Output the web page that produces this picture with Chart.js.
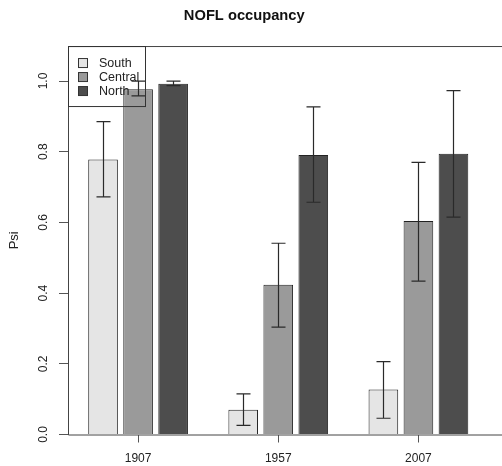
<!DOCTYPE html>
<html>
<head>
<meta charset="utf-8">
<script src="https://cdn.jsdelivr.net/npm/chart.js@4.4.1/dist/chart.umd.min.js"></script>
<style>
  html, body { margin: 0; padding: 0; background: #fff; }
  canvas { display: block; }
</style>
</head>
<body>
<canvas id="c" width="502" height="466"></canvas>
<script>
// Occupancy estimates (Psi) per survey year and region, with interval bounds
const years = ['1907', '1957', '2007'];
const regions = ['South', 'Central', 'North'];

const south     = [0.778, 0.070, 0.127];
const southLo   = [0.672, 0.026, 0.046];
const southHi   = [0.885, 0.115, 0.206];

const central   = [0.977, 0.424, 0.604];
const centralLo = [0.958, 0.304, 0.434];
const centralHi = [1.000, 0.541, 0.770];

const north     = [0.992, 0.791, 0.794];
const northLo   = [0.987, 0.657, 0.615];
const northHi   = [1.000, 0.927, 0.973];

const yTicks = [0.0, 0.2, 0.4, 0.6, 0.8, 1.0];

const fills = ['#e5e5e5', '#9a9a9a', '#4d4d4d'];
const lows  = [southLo, centralLo, northLo];
const highs = [southHi, centralHi, northHi];

const FONT = "'Liberation Sans', Arial, Helvetica, sans-serif";

// Box around the plot region, extending past the right edge of the canvas
const framePlugin = {
  id: 'frame',
  beforeDatasetsDraw(chart) {
    const { ctx, chartArea: a, width } = chart;
    ctx.save();
    ctx.strokeStyle = '#444';
    ctx.lineWidth = 1;
    ctx.beginPath();
    ctx.moveTo(width + 5, a.top + 0.5);
    ctx.lineTo(a.left + 0.5, a.top + 0.5);
    ctx.lineTo(a.left + 0.5, a.bottom + 0.5);
    ctx.lineTo(width + 5, a.bottom + 0.5);
    ctx.stroke();
    ctx.restore();
  }
};

// Interval whiskers with caps on each bar
const errorBarPlugin = {
  id: 'errorBars',
  afterDatasetsDraw(chart) {
    const { ctx } = chart;
    const y = chart.scales.y;
    const cap = 7;
    ctx.save();
    ctx.strokeStyle = '#2a2a2a';
    ctx.lineWidth = 1.2;
    chart.data.datasets.forEach((ds, i) => {
      const meta = chart.getDatasetMeta(i);
      meta.data.forEach((bar, j) => {
        const x = Math.round(bar.x) + 0.5;
        const yl = y.getPixelForValue(lows[i][j]);
        const yh = y.getPixelForValue(highs[i][j]);
        ctx.beginPath();
        ctx.moveTo(x, yl); ctx.lineTo(x, yh);
        ctx.moveTo(x - cap, yh); ctx.lineTo(x + cap, yh);
        ctx.moveTo(x - cap, yl); ctx.lineTo(x + cap, yl);
        ctx.stroke();
      });
    });
    ctx.restore();
  }
};

// Vertical (rotated) value labels on the left axis, plus the legend box
const overlayPlugin = {
  id: 'overlay',
  afterDraw(chart) {
    const { ctx, chartArea: a } = chart;
    const y = chart.scales.y;
    ctx.save();
    ctx.fillStyle = '#222';
    ctx.font = '12px ' + FONT;
    ctx.textAlign = 'center';
    ctx.textBaseline = 'middle';
    yTicks.forEach(v => {
      const py = y.getPixelForValue(v);
      ctx.save();
      ctx.translate(44, py);
      ctx.rotate(-Math.PI / 2);
      ctx.fillText(v.toFixed(1), 0, 0);
      ctx.restore();
    });

    // legend
    const lx = a.left, ly = a.top;
    ctx.strokeStyle = '#333';
    ctx.lineWidth = 1;
    ctx.strokeRect(lx + 0.5, ly + 0.5, 77, 60);
    ctx.font = '12.5px ' + FONT;
    ctx.textAlign = 'left';
    regions.forEach((name, k) => {
      const cy = ly + 17 + k * 14;
      ctx.fillStyle = fills[k];
      ctx.fillRect(lx + 10.5, cy - 4.5, 9, 9);
      ctx.strokeRect(lx + 10.5, cy - 4.5, 9, 9);
      ctx.fillStyle = '#222';
      ctx.fillText(name, lx + 31, cy + 0.5);
    });
    ctx.restore();
  }
};

new Chart(document.getElementById('c'), {
  type: 'bar',
  data: {
    labels: years,
    datasets: [
      { label: regions[0], data: south,   backgroundColor: fills[0] },
      { label: regions[1], data: central, backgroundColor: fills[1] },
      { label: regions[2], data: north,   backgroundColor: fills[2] }
    ].map(d => Object.assign(d, {
      borderColor: '#222',
      borderWidth: 1,
      categoryPercentage: 0.75,
      barPercentage: 0.846
    }))
  },
  options: {
    responsive: false,
    devicePixelRatio: 1,
    animation: false,
    layout: { padding: { left: 0, right: 13.5, top: 0, bottom: 0 } },
    plugins: {
      legend: { display: false },
      tooltip: { enabled: false },
      title: {
        display: true,
        text: 'NOFL occupancy',
        color: '#111',
        font: { family: FONT, size: 14.7, weight: 'bold' },
        padding: { top: 7.2, bottom: 21.2 }
      }
    },
    scales: {
      x: {
        type: 'category',
        offset: true,
        border: { display: false },
        grid: {
          display: true, offset: false, drawOnChartArea: false,
          drawTicks: true, tickLength: 8, color: '#555', tickWidth: 1
        },
        ticks: {
          color: '#222', padding: 9,
          font: { family: FONT, size: 12 },
          maxRotation: 0, minRotation: 0
        },
        afterFit(s) { s.height = 31.5; }
      },
      y: {
        min: 0,
        max: 1.099,
        border: { display: false },
        grid: {
          display: true, drawOnChartArea: false,
          drawTicks: true, tickLength: 9, color: '#555', tickWidth: 1
        },
        ticks: { display: false, stepSize: 0.2 },
        afterBuildTicks(s) {
          s.ticks = yTicks.map(v => ({ value: v }));
        },
        title: {
          display: true,
          text: 'Psi',
          color: '#222',
          font: { family: FONT, size: 13 },
          padding: { top: 7, bottom: 0 }
        },
        afterFit(s) { s.width = 68; }
      }
    }
  },
  plugins: [framePlugin, errorBarPlugin, overlayPlugin]
});
</script>
</body>
</html>
